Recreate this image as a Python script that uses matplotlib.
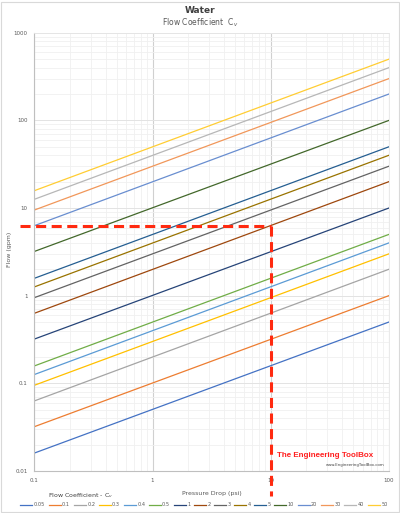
import matplotlib.pyplot as plt
from matplotlib.patches import Rectangle
from matplotlib.ticker import FixedLocator, FixedFormatter, LogLocator, NullFormatter

# flow coefficients and flow read at the chart edges (0.1 psi and 100 psi)
cv = ['0.05', '0.1', '0.2', '0.3', '0.4', '0.5', '1', '2', '3', '4', '5',
      '10', '20', '30', '40', '50']
dp_ends = [0.1, 100]
flow_lo = [0.016, 0.032, 0.063, 0.095, 0.126, 0.158, 0.32, 0.63, 0.95, 1.26,
           1.58, 3.2, 6.3, 9.5, 12.6, 15.8]
flow_hi = [0.5, 1, 2, 3, 4, 5, 10, 20, 30, 40, 50, 100, 200, 300, 400, 500]
colors = ['#4472C4', '#ED7D31', '#A5A5A5', '#FFC000', '#5B9BD5', '#70AD47',
          '#264478', '#9E480E', '#636363', '#997300', '#255E91', '#43682B',
          '#698ED0', '#F1975A', '#B7B7B7', '#FFCD33']

# example read-off: 10 psi -> 6.3 gpm
ex_dp = 10
ex_flow = 6.3

x_ticks = [0.1, 1, 10, 100]
x_labels = ['0.1', '1', '10', '100']
y_ticks = [0.01, 0.1, 1, 10, 100, 1000]
y_labels = ['0.01', '0.1', '1', '10', '100', '1000']

fig = plt.figure(figsize=(4.0, 5.13), dpi=100)
fig.patches.append(Rectangle((0.003, 0.002), 0.994, 0.995, transform=fig.transFigure,
                             fill=False, edgecolor='#D9D9D9', lw=0.8))
ax = fig.add_axes([0.086, 0.082, 0.886, 0.854])

for i in range(len(cv)):
    ax.plot(dp_ends, [flow_lo[i], flow_hi[i]], color=colors[i], lw=0.9, label=cv[i])

ax.set_xscale('log')
ax.set_yscale('log')
ax.set_xlim(0.1, 100)
ax.set_ylim(0.01, 1000)

ax.xaxis.set_major_locator(FixedLocator(x_ticks))
ax.xaxis.set_major_formatter(FixedFormatter(x_labels))
ax.yaxis.set_major_locator(FixedLocator(y_ticks))
ax.yaxis.set_major_formatter(FixedFormatter(y_labels))
ax.xaxis.set_minor_locator(LogLocator(subs=range(2, 10)))
ax.yaxis.set_minor_locator(LogLocator(subs=range(2, 10)))
ax.xaxis.set_minor_formatter(NullFormatter())
ax.yaxis.set_minor_formatter(NullFormatter())
ax.tick_params(which='both', length=0, labelsize=4, labelcolor='#595959', pad=5)
ax.grid(which='minor', axis='both', color='#F0F0F0', lw=0.6)
ax.grid(which='major', axis='y', color='#E3E3E3', lw=0.7)
ax.grid(which='major', axis='x', color='#D0D0D0', lw=0.8)
ax.set_axisbelow(True)
for s in ['top', 'right']:
    ax.spines[s].set_color('#E6E6E6')
    ax.spines[s].set_linewidth(0.6)
for s in ['left', 'bottom']:
    ax.spines[s].set_color('#BFBFBF')
    ax.spines[s].set_linewidth(0.8)

ax.set_xlabel('Pressure Drop (psi)', fontsize=4.5, color='#595959', labelpad=6)
ax.set_ylabel('Flow (gpm)', fontsize=4.5, color='#595959')
ax.yaxis.set_label_coords(-0.063, 0.505)

# red dashed read-off lines, running past the axes
red = '#FF2A10'
ax.plot([0.076, ex_dp], [ex_flow, ex_flow], color=red, lw=2.2,
        dashes=(3.3, 1.8), clip_on=False, zorder=5)
ax.plot([ex_dp, ex_dp], [ex_flow, 0.0052], color=red, lw=2.2,
        dashes=(3.3, 1.8), clip_on=False, zorder=5)

fig.text(0.5, 0.979, 'Water', ha='center', va='center', fontsize=6.5,
         fontweight='bold', color='#404040')
fig.text(0.5, 0.956, 'Flow Coefficient  C$_v$', ha='center', va='center',
         fontsize=5.5, color='#595959')

fig.text(0.693, 0.113, 'The Engineering ToolBox', family='Liberation Sans',
         fontsize=5.8, color='#FF2020', fontweight='bold',
         ha='left', va='center')
fig.text(0.962, 0.093, 'www.EngineeringToolBox.com', fontsize=2.8,
         color='#404040', ha='right', va='center')

fig.text(0.12, 0.034, 'Flow Coefficient - C$_v$', fontsize=4.5, color='#404040',
         ha='left', va='center')
fig.legend(loc='center', bbox_to_anchor=(0.51, 0.016), ncol=16, frameon=False,
           fontsize=3.6, handlelength=2.4, handletextpad=0.3, columnspacing=0.7,
           labelcolor='#595959')

fig.savefig('out.png', dpi=100)
